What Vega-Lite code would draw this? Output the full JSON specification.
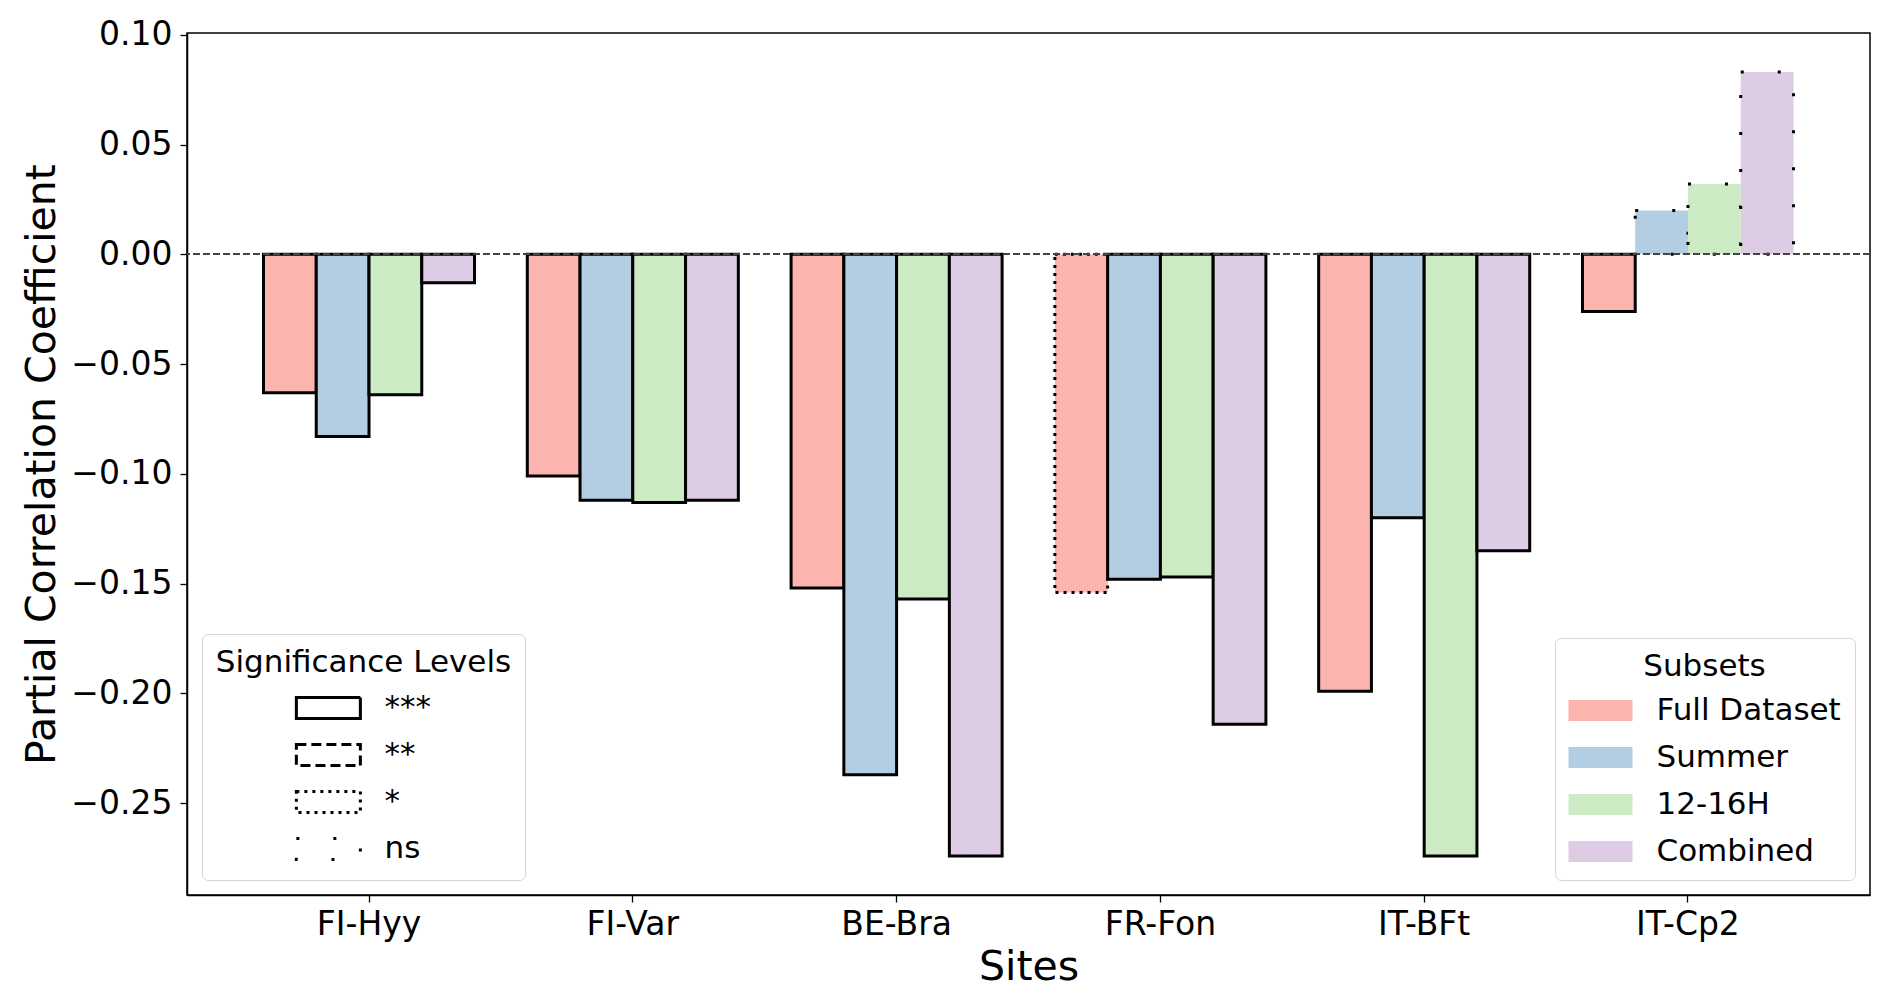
{
  "$schema": "https://vega.github.io/schema/vega-lite/v6.json",
  "width": 1683,
  "height": 862,
  "autosize": {"type": "none"},
  "padding": {"left": 187, "top": 33, "right": 22, "bottom": 104},
  "background": "white",
  "config": {
    "font": "DejaVu Sans",
    "view": {"stroke": "black", "strokeWidth": 1.5},
    "axis": {
      "grid": false,
      "domainColor": "black",
      "domainWidth": 1.5,
      "tickColor": "black",
      "tickWidth": 1.3,
      "tickSize": 7,
      "labelColor": "black",
      "labelFontSize": 33,
      "titleColor": "black",
      "titleFontSize": 41,
      "titleFontWeight": "normal"
    },
    "legend": {
      "labelFontSize": 31,
      "titleFontSize": 31,
      "titleFontWeight": "normal",
      "labelColor": "black",
      "titleColor": "black",
      "labelLimit": 500,
      "titleLimit": 500,
      "strokeColor": "#d4d4d4",
      "fillColor": "white",
      "cornerRadius": 6,
      "padding": 13.5,
      "titleAnchor": "middle",
      "titlePadding": 12
    }
  },
  "data": {
    "values": [
      {"site": "FI-Hyy", "subset": "Full Dataset", "value": -0.063, "sig": "***"},
      {"site": "FI-Hyy", "subset": "Summer", "value": -0.083, "sig": "***"},
      {"site": "FI-Hyy", "subset": "12-16H", "value": -0.064, "sig": "***"},
      {"site": "FI-Hyy", "subset": "Combined", "value": -0.013, "sig": "***"},
      {"site": "FI-Var", "subset": "Full Dataset", "value": -0.101, "sig": "***"},
      {"site": "FI-Var", "subset": "Summer", "value": -0.112, "sig": "***"},
      {"site": "FI-Var", "subset": "12-16H", "value": -0.113, "sig": "***"},
      {"site": "FI-Var", "subset": "Combined", "value": -0.112, "sig": "***"},
      {"site": "BE-Bra", "subset": "Full Dataset", "value": -0.152, "sig": "***"},
      {"site": "BE-Bra", "subset": "Summer", "value": -0.237, "sig": "***"},
      {"site": "BE-Bra", "subset": "12-16H", "value": -0.157, "sig": "***"},
      {"site": "BE-Bra", "subset": "Combined", "value": -0.274, "sig": "***"},
      {"site": "FR-Fon", "subset": "Full Dataset", "value": -0.154, "sig": "*"},
      {"site": "FR-Fon", "subset": "Summer", "value": -0.148, "sig": "***"},
      {"site": "FR-Fon", "subset": "12-16H", "value": -0.147, "sig": "***"},
      {"site": "FR-Fon", "subset": "Combined", "value": -0.214, "sig": "***"},
      {"site": "IT-BFt", "subset": "Full Dataset", "value": -0.199, "sig": "***"},
      {"site": "IT-BFt", "subset": "Summer", "value": -0.120, "sig": "***"},
      {"site": "IT-BFt", "subset": "12-16H", "value": -0.274, "sig": "***"},
      {"site": "IT-BFt", "subset": "Combined", "value": -0.135, "sig": "***"},
      {"site": "IT-Cp2", "subset": "Full Dataset", "value": -0.026, "sig": "***"},
      {"site": "IT-Cp2", "subset": "Summer", "value": 0.020, "sig": "ns"},
      {"site": "IT-Cp2", "subset": "12-16H", "value": 0.032, "sig": "ns"},
      {"site": "IT-Cp2", "subset": "Combined", "value": 0.083, "sig": "ns"}
    ]
  },
  "layer": [
    {
      "mark": {"type": "bar", "stroke": "black", "strokeWidth": 3, "opacity": 1, "fillOpacity": 1},
      "encoding": {
        "x": {
          "field": "site",
          "type": "nominal",
          "sort": ["FI-Hyy", "FI-Var", "BE-Bra", "FR-Fon", "IT-BFt", "IT-Cp2"],
          "scale": {"paddingInner": 0.2, "paddingOuter": 0.29},
          "title": "Sites",
          "axis": {"labelAngle": 0, "labelPadding": 6, "titlePadding": 6}
        },
        "xOffset": {
          "field": "subset",
          "type": "nominal",
          "sort": ["Full Dataset", "Summer", "12-16H", "Combined"],
          "scale": {"paddingInner": 0, "paddingOuter": 0}
        },
        "y": {
          "field": "value",
          "type": "quantitative",
          "stack": null,
          "scale": {"domain": [-0.2918, 0.1008], "nice": false, "zero": false},
          "title": "Partial Correlation Coefficient",
          "axis": {"values": [-0.25, -0.2, -0.15, -0.1, -0.05, 0, 0.05, 0.1], "format": ".2f", "labelPadding": 8, "titlePadding": 7}
        },
        "y2": {"datum": 0},
        "fill": {
          "field": "subset",
          "type": "nominal",
          "scale": {
            "domain": ["Full Dataset", "Summer", "12-16H", "Combined"],
            "range": ["#fbb4ae", "#b3cde3", "#ccebc5", "#decbe4"]
          },
          "legend": {
            "title": "Subsets",
            "orient": "bottom-right",
            "offset": 15,
            "rowPadding": 16,
            "symbolType": "M-1,-0.66L3,-0.66L3,0.66L-1,0.66Z",
            "symbolSize": 1024,
            "symbolStrokeWidth": 0,
            "labelOffset": 56,
            "encode": {"symbols": {"update": {"stroke": {"value": "transparent"}, "strokeWidth": {"value": 0}}}}
          }
        },
        "strokeDash": {
          "field": "sig",
          "type": "nominal",
          "scale": {
            "domain": ["***", "**", "*", "ns"],
            "range": [[1, 0], [10, 5], [3, 5], [3, 34]]
          },
          "legend": {
            "title": "Significance Levels",
            "orient": "bottom-left",
            "offset": 15,
            "rowPadding": 12,
            "symbolType": "M-1.04,-0.66L2.96,-0.66L2.96,0.66L-1.04,0.66Z",
            "symbolSize": 1024,
            "symbolStrokeWidth": 3,
            "symbolStrokeColor": "black",
            "symbolFillColor": "transparent",
            "labelOffset": 54,
            "encode": {"symbols": {"update": {"fill": {"value": "transparent"}, "stroke": {"value": "black"}, "strokeWidth": {"value": 3}}}}
          }
        }
      }
    },
    {
      "mark": {"type": "rule", "stroke": "#444444", "strokeDash": [7, 3], "strokeWidth": 1.5},
      "encoding": {"y": {"datum": 0}}
    }
  ]
}
